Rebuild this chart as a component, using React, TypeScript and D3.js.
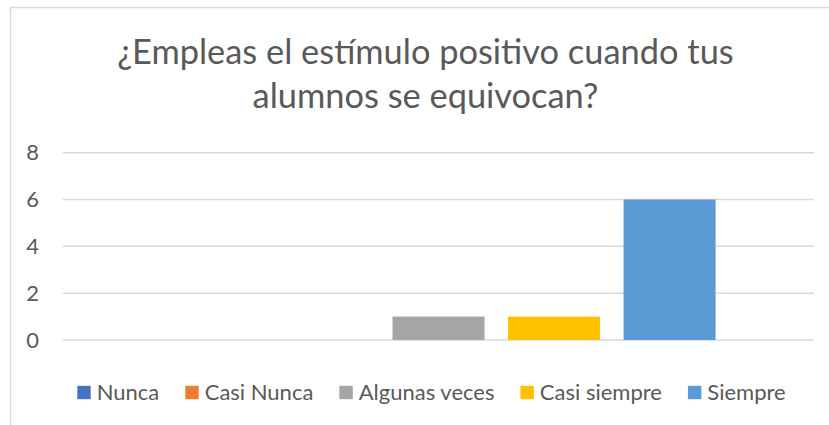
import React, { useEffect, useRef } from "react";
import * as d3 from "d3";

const categories = ["Nunca", "Casi Nunca", "Algunas veces", "Casi siempre", "Siempre"];
const values = [0, 0, 1, 1, 6];
const colors = ["#4472C4", "#ED7D31", "#A5A5A5", "#FFC000", "#5B9BD5"];
const yTicks = [0, 2, 4, 6, 8];
const titleLines = ["¿Empleas el estímulo positivo cuando tus", "alumnos se equivocan?"];

const W = 829;
const H = 425;
const FONT = "Lato, 'Open Sans', sans-serif";
const TEXT = "#595959";
const GRID = "#d9d9d9";

export default function App() {
  const ref = useRef<SVGSVGElement | null>(null);

  useEffect(() => {
    const svg = d3.select(ref.current);
    svg.selectAll("*").remove();

    svg.append("rect").attr("width", W).attr("height", H).attr("fill", "#fff");
    svg.append("rect")
      .attr("x", 10.5).attr("y", 7.5)
      .attr("width", W + 20).attr("height", H + 20)
      .attr("fill", "#fff").attr("stroke", GRID).attr("stroke-width", 1.5);

    const title = svg.append("text")
      .attr("text-anchor", "middle")
      .attr("font-family", FONT)
      .attr("font-size", 34.4)
      .attr("fill", TEXT);
    titleLines.forEach((t, i) => {
      title.append("tspan").attr("x", 425.5).attr("y", 64 + i * 44).text(t);
    });

    // one category group holding five series (Excel clustered column)
    const x0 = d3.scaleBand<string>().domain(["g"]).range([63, 814]).paddingOuter(0.15);
    const x1 = d3.scaleBand<string>()
      .domain(categories)
      .range([0, x0.bandwidth()])
      .paddingInner(0.2035)
      .paddingOuter(0.1017);
    const y = d3.scaleLinear().domain([0, 8]).range([340, 152.7]);

    svg.append("g").selectAll("line").data(yTicks).join("line")
      .attr("x1", 63).attr("x2", 814)
      .attr("y1", (d) => y(d)).attr("y2", (d) => y(d))
      .attr("stroke", GRID).attr("stroke-width", 1.5);

    svg.append("g").selectAll("text").data(yTicks).join("text")
      .attr("x", 39).attr("y", (d) => y(d))
      .attr("dy", "0.35em")
      .attr("text-anchor", "end")
      .attr("font-family", FONT).attr("font-size", 22)
      .attr("fill", TEXT)
      .text((d) => String(d));

    svg.append("g").attr("transform", `translate(${x0("g")},0)`)
      .selectAll("rect").data(categories).join("rect")
      .attr("x", (d) => x1(d)!)
      .attr("width", x1.bandwidth())
      .attr("y", (_d, i) => y(values[i]))
      .attr("height", (_d, i) => y(0) - y(values[i]))
      .attr("fill", (_d, i) => colors[i]);

    const lg = svg.append("g");
    const sq = 13.4;
    const gapText = 6;
    const gapItem = 26;
    const items: { g: any; w: number }[] = [];
    categories.forEach((c, i) => {
      const g = lg.append("g");
      g.append("rect").attr("x", 0).attr("y", -sq / 2).attr("width", sq).attr("height", sq).attr("fill", colors[i]);
      const t = g.append("text")
        .attr("x", sq + gapText).attr("y", 0).attr("dy", "0.35em")
        .attr("font-family", FONT).attr("font-size", 22).attr("fill", TEXT)
        .text(c);
      const tw = (t.node() as SVGTextElement).getComputedTextLength();
      items.push({ g, w: sq + gapText + tw });
    });
    const total = items.reduce((s, it) => s + it.w, 0) + gapItem * (items.length - 1);
    let cx = 431.5 - total / 2;
    items.forEach((it) => {
      it.g.attr("transform", `translate(${cx},392.5)`);
      cx += it.w + gapItem;
    });
  }, []);

  return (
    <svg
      ref={ref}
      width={W}
      height={H}
      style={{ position: "absolute", left: 0, top: 0, display: "block" }}
    />
  );
}
